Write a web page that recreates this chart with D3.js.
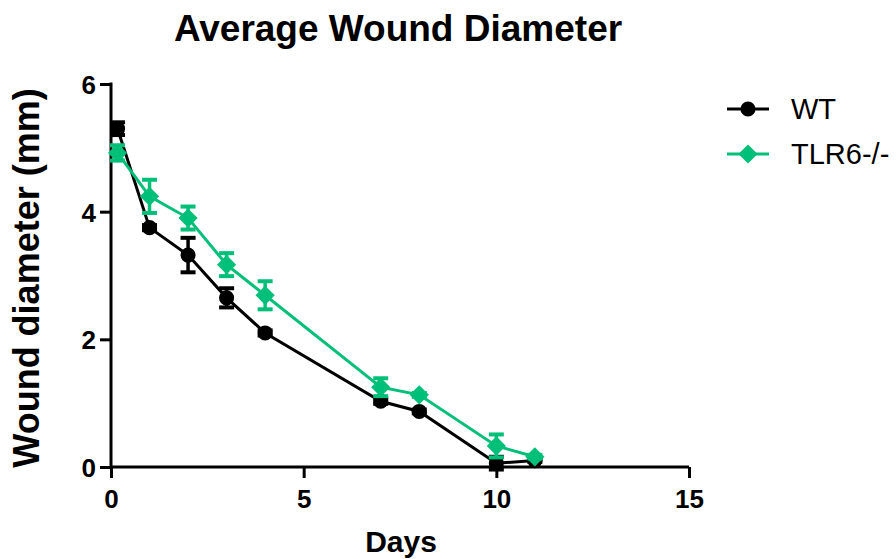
<!DOCTYPE html>
<html>
<head>
<meta charset="utf-8">
<script src="https://cdn.jsdelivr.net/npm/d3@7"></script>
<style>
  body { margin: 0; background: #fff; }
  text { font-family: "Liberation Sans", Arial, sans-serif; }
</style>
</head>
<body>
<div id="chart"></div>
<script>
// values
var days    = [0.17, 1, 2, 3, 4, 7, 8, 10, 11];
var wtMean  = [5.30, 3.75, 3.32, 2.65, 2.10, 1.03, 0.87, 0.06, 0.10];
var wtErr   = [0.10, 0.04, 0.27, 0.15, 0.04, 0.04, 0.03, 0.10, 0.02];
var tlrMean = [4.92, 4.24, 3.90, 3.17, 2.69, 1.25, 1.13, 0.33, 0.16];
var tlrErr  = [0.12, 0.26, 0.18, 0.18, 0.22, 0.14, 0.03, 0.18, 0.03];
var xTicks  = [0, 5, 10, 15];
var yTicks  = [0, 2, 4, 6];

var width = 896, height = 559;
var margin = { left: 111, right: 207, top: 84, bottom: 92 };
var w = width - margin.left - margin.right,
    h = height - margin.top - margin.bottom;

var colWT = "#000000", colTLR = "#00BF78";

var svg = d3.select("#chart")
  .append("svg")
    .attr("width", width)
    .attr("height", height)
  .append("g")
    .attr("transform", "translate(" + margin.left + "," + margin.top + ")");

var x = d3.scaleLinear().domain([0, 15]).range([0, w]);
var y = d3.scaleLinear().domain([0, 6]).range([h, 0]);

// Axes
var xAxis = svg.append("g")
  .attr("transform", "translate(0," + h + ")")
  .call(d3.axisBottom(x).tickValues(xTicks).tickSize(11).tickPadding(7).tickFormat(d3.format("d")));
var yAxis = svg.append("g")
  .call(d3.axisLeft(y).tickValues(yTicks).tickSize(11).tickPadding(4).tickFormat(d3.format("d")));

[xAxis, yAxis].forEach(function(a) {
  a.select(".domain").remove();
  a.selectAll("line").attr("stroke", "#000").attr("stroke-width", 3);
  a.selectAll("text")
    .attr("fill", "#000")
    .style("font-size", "26px")
    .style("font-weight", "bold")
    .style("font-family", "'Liberation Sans', Arial, sans-serif");
});
xAxis.selectAll("text").attr("dy", "0.88em");
yAxis.selectAll("text").attr("dy", "0.36em");

// axis lines
svg.append("line")
  .attr("x1", x(0)).attr("x2", x(15))
  .attr("y1", y(0)).attr("y2", y(0))
  .attr("stroke", "#000").attr("stroke-width", 3);
svg.append("line")
  .attr("x1", x(0)).attr("x2", x(0))
  .attr("y1", y(6) - 1.5).attr("y2", y(0))
  .attr("stroke", "#000").attr("stroke-width", 3);

var circle = d3.symbol().type(d3.symbolCircle).size(180);
var diamond = d3.symbol().type(d3.symbolSquare).size(185);

// series
function drawSeries(mean, err, col, isDiamond) {
  var data = days.map(function(d, i) { return { x: d, y: mean[i], e: err[i] }; });

  svg.append("path")
    .datum(data)
    .attr("fill", "none")
    .attr("stroke", col)
    .attr("stroke-width", 3)
    .attr("d", d3.line()
      .x(function(d) { return x(d.x); })
      .y(function(d) { return y(d.y); }));

  var eb = svg.append("g").selectAll("g").data(data).enter().append("g");
  eb.append("line")
    .attr("x1", function(d) { return x(d.x); })
    .attr("x2", function(d) { return x(d.x); })
    .attr("y1", function(d) { return y(d.y - d.e); })
    .attr("y2", function(d) { return y(d.y + d.e); })
    .attr("stroke", col).attr("stroke-width", 3.5);
  eb.selectAll(".cap")
    .data(function(d) { return [d.y - d.e, d.y + d.e].map(function(v) { return { x: d.x, v: v }; }); })
    .enter().append("line")
    .attr("x1", function(d) { return x(d.x) - 7.5; })
    .attr("x2", function(d) { return x(d.x) + 7.5; })
    .attr("y1", function(d) { return y(d.v); })
    .attr("y2", function(d) { return y(d.v); })
    .attr("stroke", col).attr("stroke-width", 4);

  svg.append("g").selectAll("path")
    .data(data).enter().append("path")
    .attr("transform", function(d) {
      return "translate(" + x(d.x) + "," + y(d.y) + ")" + (isDiamond ? " rotate(45)" : "");
    })
    .attr("d", isDiamond ? diamond : circle)
    .attr("fill", col);
}

drawSeries(wtMean, wtErr, colWT, false);
drawSeries(tlrMean, tlrErr, colTLR, true);

// legend
var legend = [
  { name: "WT", col: colWT, dia: false, ly: 109 },
  { name: "TLR6-/-", col: colTLR, dia: true, ly: 154 }
];
var lg = d3.select("svg").append("g");
legend.forEach(function(l) {
  lg.append("line")
    .attr("x1", 727).attr("x2", 769)
    .attr("y1", l.ly).attr("y2", l.ly)
    .attr("stroke", l.col).attr("stroke-width", 3);
  lg.append("path")
    .attr("transform", "translate(748," + l.ly + ")" + (l.dia ? " rotate(45)" : ""))
    .attr("d", l.dia ? diamond : circle)
    .attr("fill", l.col);
  lg.append("text")
    .attr("x", 791).attr("y", l.ly)
    .attr("dy", "0.36em")
    .style("font-size", "29px")
    .text(l.name);
});

// titles
d3.select("svg").append("text")
  .attr("x", 398).attr("y", 41)
  .attr("text-anchor", "middle")
  .style("font-size", "37px").style("font-weight", "bold")
  .text("Average Wound Diameter");

d3.select("svg").append("text")
  .attr("x", 401).attr("y", 552)
  .attr("text-anchor", "middle")
  .style("font-size", "30px").style("font-weight", "bold")
  .text("Days");

d3.select("svg").append("text")
  .attr("transform", "translate(39,278) rotate(-90)")
  .attr("text-anchor", "middle")
  .style("font-size", "36px").style("font-weight", "bold")
  .text("Wound diameter (mm)");
</script>
</body>
</html>
